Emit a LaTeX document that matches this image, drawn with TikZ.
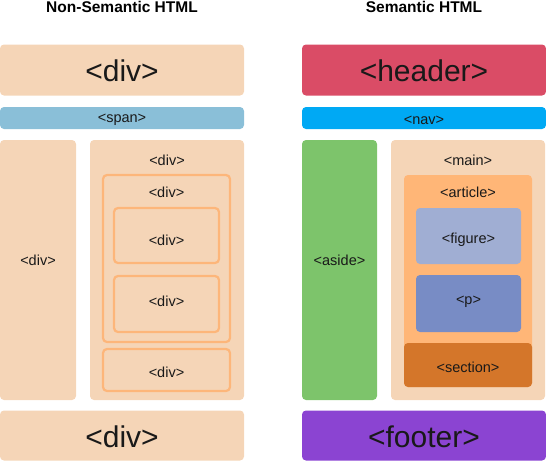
\documentclass[tikz,border=0pt]{standalone}
\usepackage{fontspec}
\setmainfont{Liberation Sans}
\definecolor{peach}{HTML}{F5D5B7}
\definecolor{spanblue}{HTML}{8ABFD8}
\definecolor{headred}{HTML}{DA4C66}
\definecolor{navblue}{HTML}{00A9F4}
\definecolor{asidegreen}{HTML}{7DC46B}
\definecolor{artorange}{HTML}{FFB677}
\definecolor{figblue}{HTML}{A0AED3}
\definecolor{pblue}{HTML}{788CC5}
\definecolor{secorange}{HTML}{D4762A}
\definecolor{footpurple}{HTML}{8B44D2}
\definecolor{outline}{HTML}{FDB67A}
\tikzset{
  box/.style={rounded corners=4pt, inner sep=0pt},
  ring/.style={box, fill=peach, draw=outline, line width=2.2pt},
  tag/.style={inner sep=0pt, yshift=-2pt, text=black!90, font=\fontsize{14.5}{16}\selectfont},
  bigtag/.style={inner sep=0pt, yshift=-1pt, text=black!90, font=\fontsize{30}{32}\selectfont},
  title/.style={inner sep=0pt, font=\bfseries\fontsize{15.5}{17}\selectfont}
}
\begin{document}
\begin{tikzpicture}[x=1pt,y=-1pt]
    \useasboundingbox (0,0) rectangle (546,461);
    % left side
    \node[title] (titleL) at (122,7) {Non-Semantic HTML};
    \node[box, fill=peach, minimum width=244, minimum height=51] (divtop) at (122,70) {};
    \node[bigtag] at (divtop) {<div>};
    \node[box, fill=spanblue, minimum width=244, minimum height=22] (span) at (122,118) {};
    \node[tag] at (span) {<span>};
    \node[box, fill=peach, minimum width=76, minimum height=260] (divleft) at (38,270) {};
    \node[tag] (divleftlbl) at (38,258) {<div>};
    \node[box, fill=peach, minimum width=154, minimum height=260] (divouter) at (167,270) {};
    \node[tag] (divouterlbl) at (167,158) {<div>};
    \node[ring, minimum width=127, minimum height=167] (divmid) at (166.5,258.5) {};
    \node[tag] (divmidlbl) at (166.5,190) {<div>};
    \node[ring, minimum width=105, minimum height=55] (divinA) at (166.5,235.5) {};
    \node[tag] (divinAlbl) at (166.5,238) {<div>};
    \node[ring, minimum width=105, minimum height=56] (divinB) at (166.5,304) {};
    \node[tag] (divinBlbl) at (166.5,299) {<div>};
    \node[ring, minimum width=127, minimum height=42] (divbot) at (166.5,370) {};
    \node[tag] at (divbot) {<div>};
    \node[box, fill=peach, minimum width=244, minimum height=50] (divfoot) at (122,435.5) {};
    \node[bigtag] at (divfoot) {<div>};
    % right side
    \node[title] (titleR) at (424,7) {Semantic HTML};
    \node[box, fill=headred, minimum width=244, minimum height=51] (header) at (424,70) {};
    \node[bigtag] at (header) {<header>};
    \node[box, fill=navblue, minimum width=244, minimum height=22] (nav) at (424,118) {};
    \node[tag] at (nav) {<nav>};
    \node[box, fill=asidegreen, minimum width=75, minimum height=260] (aside) at (339.5,270) {};
    \node[tag] (asidelbl) at (339.5,258) {<aside>};
    \node[box, fill=peach, minimum width=154, minimum height=260] (main) at (468,270) {};
    \node[tag] (mainlbl) at (468,158) {<main>};
    \node[box, fill=artorange, minimum width=128, minimum height=212] (article) at (468,281) {};
    \node[tag] (articlelbl) at (468,190) {<article>};
    \node[box, fill=figblue, minimum width=105, minimum height=56] (figure) at (468.5,236) {};
    \node[tag] (figurelbl) at (468.5,238) {<figure>};
    \node[box, fill=pblue, minimum width=105, minimum height=57] (para) at (468.5,303.5) {};
    \node[tag] (paralbl) at (468.5,300) {<p>};
    \node[box, fill=secorange, minimum width=128, minimum height=44] (section) at (468,365) {};
    \node[tag] at (section) {<section>};
    \node[box, fill=footpurple, minimum width=244, minimum height=50] (footer) at (424,435.5) {};
    \node[bigtag] at (footer) {<footer>};
\end{tikzpicture}
\end{document}
